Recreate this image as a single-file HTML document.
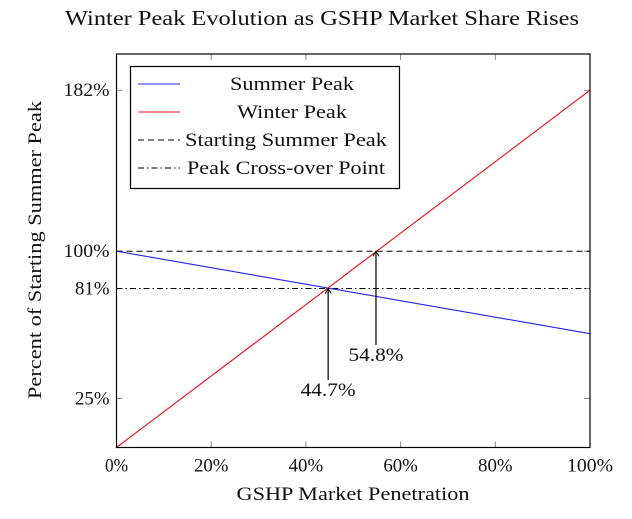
<!DOCTYPE html>
<html><head><meta charset="utf-8"><style>
body{margin:0;background:#fff}
text{font-family:"Liberation Serif",serif;fill:#111}
</style></head><body>
<svg id="chart" width="632" height="514" xmlns="http://www.w3.org/2000/svg">
<text x="65" y="25" font-size="21" text-anchor="start" textLength="514" lengthAdjust="spacingAndGlyphs">Winter Peak Evolution as GSHP Market Share Rises</text>
<text x="353" y="500" font-size="19" text-anchor="middle" textLength="233" lengthAdjust="spacingAndGlyphs">GSHP Market Penetration</text>
<text transform="translate(41,250) rotate(-90)" font-size="19" text-anchor="middle" textLength="298" lengthAdjust="spacingAndGlyphs">Percent of Starting Summer Peak</text>
<g id="plot"></g>
</svg>
<script>
const xTicks=[0,20,40,60,80,100];
const yTicks=[25,81,100,182];
const penetration=[0,100];
const summerPeak=[100,58];
const winterPeak=[0,182];
const startingSummer=100;
const crossover=81;
const annotations=[44.7,54.8];
const annotationY=[81,100];
const X0=116.5,X1=590,Y0=447.5,Y1=54;
const x=v=>X0+(X1-X0)*v/100;
const y=v=>Y0-v*1.963;
const NS="http://www.w3.org/2000/svg";
const g=document.getElementById('plot');
function mk(t,a,p){const e=document.createElementNS(NS,t);for(const k in a)e.setAttribute(k,a[k]);(p||g).appendChild(e);return e;}
xTicks.forEach(t=>{
 const a=mk('line',{x1:x(t),x2:x(t),y1:Y0,y2:Y0-6,stroke:'#888'});
 
 
 const b=mk('line',{x1:x(t),x2:x(t),y1:Y1,y2:Y1+6,stroke:'#888'});
 
 
 const s=t+'%';
 const l=mk('text',{x:x(t),y:Y0+24,'font-size':19,'text-anchor':'middle',textLength:s.length*11.5,lengthAdjust:'spacingAndGlyphs'});l.textContent=s;
 
 
});
yTicks.forEach(t=>{
 const a=mk('line',{x1:X0,x2:X0+6,y1:y(t),y2:y(t),stroke:'#888'});
 
 
 const b=mk('line',{x1:X1,x2:X1-6,y1:y(t),y2:y(t),stroke:'#888'});
 
 
 const s=t+'%';
 const l=mk('text',{x:X0-7,y:y(t)+6,'font-size':19,'text-anchor':'end',textLength:s.length*11.5,lengthAdjust:'spacingAndGlyphs'});l.textContent=s;
 
 
});
const h1=mk('line',{x1:X0,x2:X1,y1:y(startingSummer),y2:y(startingSummer),stroke:'#000','stroke-dasharray':'6,4'});


const h2=mk('line',{x1:X0,x2:X1,y1:y(crossover),y2:y(crossover),stroke:'#000','stroke-dasharray':'6,3,1.5,3'});


const s=mk('polyline',{points:penetration.map((p,i)=>x(p)+','+y(summerPeak[i])).join(' '),fill:'none',stroke:'#2222ee','stroke-width':1.1});


const w=mk('polyline',{points:penetration.map((p,i)=>x(p)+','+y(winterPeak[i])).join(' '),fill:'none',stroke:'#e8101a','stroke-width':1.1});


const labY=[380,345];
annotations.forEach((a,i)=>{
 const ax=x(a),ay=y(annotationY[i]);
 const ln=mk('line',{x1:ax,x2:ax,y1:labY[i],y2:ay,stroke:'#000','stroke-width':1.2});
 
 
 mk('polyline',{points:(ax-3)+','+(ay+5)+' '+ax+','+ay+' '+(ax+3)+','+(ay+5),fill:'none',stroke:'#000'});
 const t=mk('text',{x:ax,y:labY[i]+16,'font-size':19,'text-anchor':'middle',textLength:55,lengthAdjust:'spacingAndGlyphs'});t.textContent=a.toFixed(1)+'%';
 
 
});
const fr=mk('rect',{x:X0,y:Y1,width:X1-X0,height:Y0-Y1,fill:'none',stroke:'#000','stroke-width':1.2});


const lg=mk('g',{});


mk('rect',{x:130.5,y:66.5,width:269,height:122,fill:'#fff',stroke:'#000','stroke-width':1.2},lg);
const items=[['Summer Peak','#2222ee',null,292,124],['Winter Peak','#e8101a',null,292,110],['Starting Summer Peak','#000','6,4',286,202],['Peak Cross-over Point','#000','6,3,1.5,3',286,198]];
items.forEach((it,i)=>{
 const yy=84+i*28;
 mk('line',{x1:138,x2:180,y1:yy,y2:yy,stroke:it[1],'stroke-dasharray':it[2]||'none'},lg);
 const t=mk('text',{x:it[3],y:yy+6,'font-size':19,'text-anchor':'middle',textLength:it[4],lengthAdjust:'spacingAndGlyphs'},lg);t.textContent=it[0];
 
 
});
</script>
</body></html>
